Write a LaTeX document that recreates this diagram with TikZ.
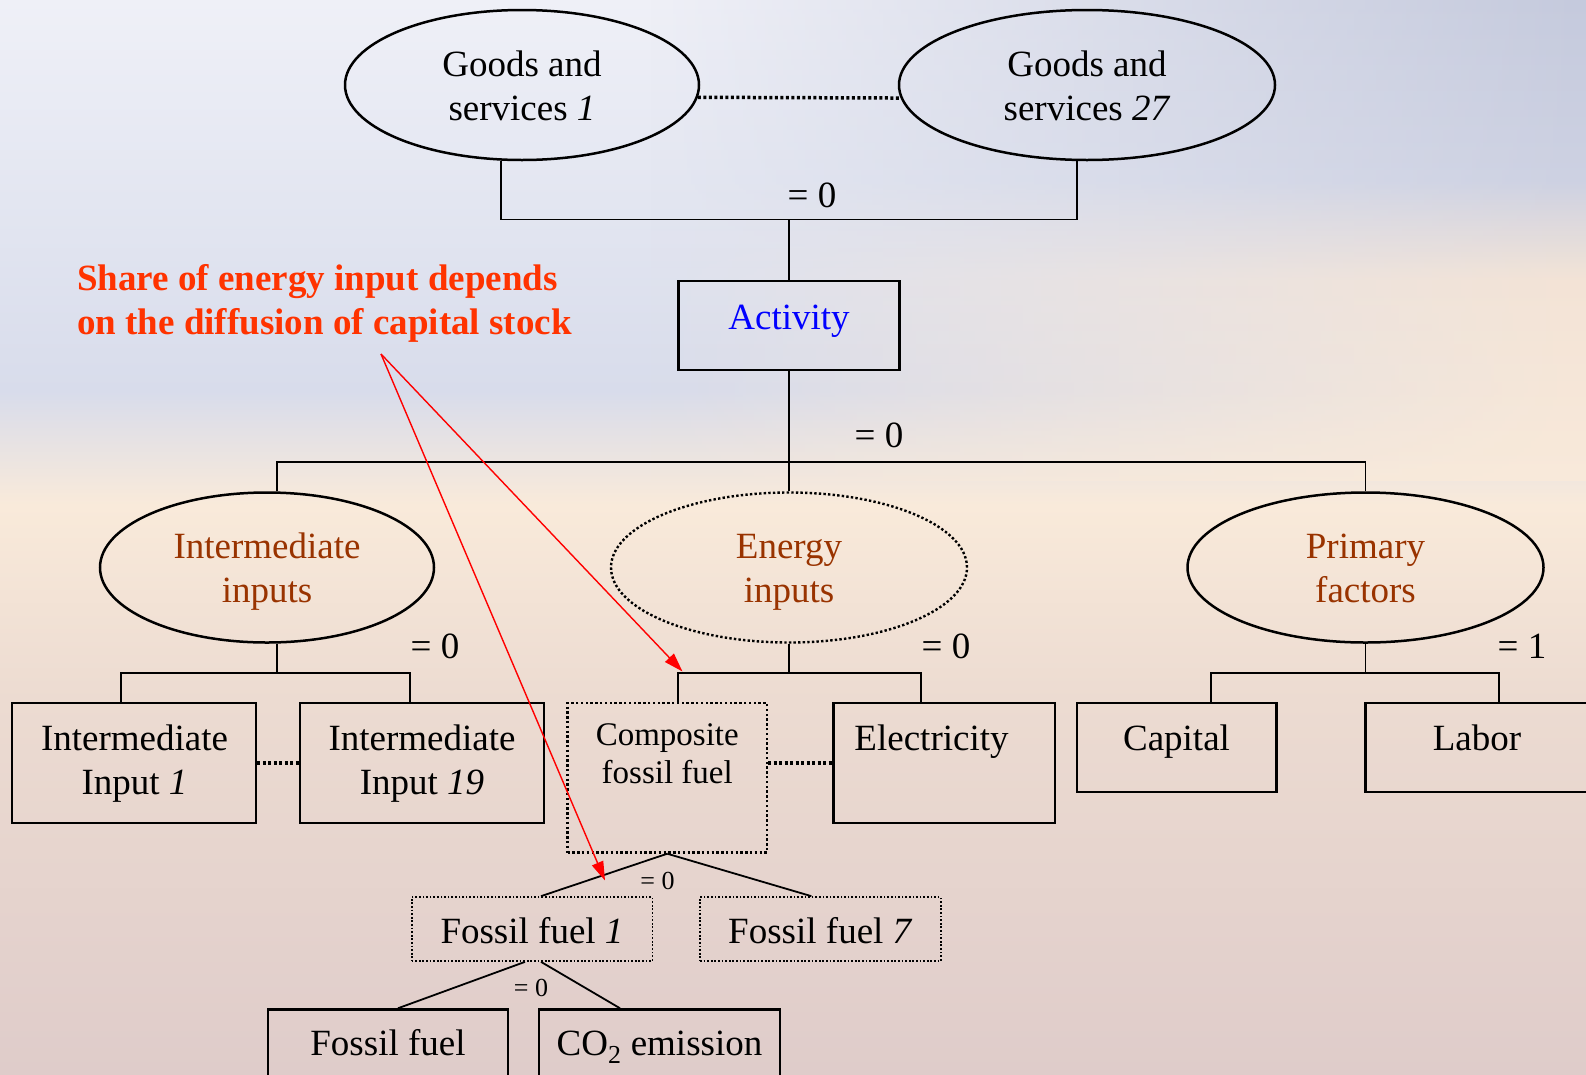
\documentclass[tikz,border=0pt]{standalone}
\usepackage{fontspec}
\setmainfont{Liberation Serif}
\usetikzlibrary{shapes.geometric,arrows.meta,fadings}
\definecolor{redtxt}{HTML}{FF3300}
\definecolor{browntxt}{HTML}{993300}
\definecolor{bgT}{HTML}{EFF0F7}
\definecolor{bgT2}{HTML}{E3E6F1}
\definecolor{bgU}{HTML}{D8DCEB}
\definecolor{bgM}{HTML}{F9EADA}
\definecolor{bgL}{HTML}{ECDBD1}
\definecolor{bgB}{HTML}{DFCCCA}
\definecolor{ovB1}{HTML}{C5CADD}
\definecolor{ovB2}{HTML}{CDD1E2}
\definecolor{ovP}{HTML}{F4E4D6}
\pgfdeclareverticalshading{bgshade}{100bp}{color(0bp)=(bgB); color(25bp)=(bgB); color(42.4bp)=(bgL); color(51.5bp)=(bgM); color(56.8bp)=(bgU); color(65.7bp)=(bgT2); color(75bp)=(bgT); color(100bp)=(bgT)}
\pgfdeclareverticalshading{ovshade}{100bp}{color(0bp)=(bgM); color(25bp)=(bgM); color(45.8bp)=(ovP); color(56.2bp)=(ovB2); color(75bp)=(ovB1); color(100bp)=(ovB1)}
\newcommand\mainf{\fontsize{37}{44.5}\selectfont}
\newcommand\smallf{\fontsize{33}{38}\selectfont}
\newcommand\tinyf{\fontsize{26}{30}\selectfont}
\newcommand\mlt[1]{\begin{tabular}[t]{@{}c@{}}#1\end{tabular}}
\begin{document}
\begin{tikzpicture}[x=1pt,y=-1pt,
  ell/.style={ellipse, draw, line width=2.5pt, inner sep=0pt, minimum height=150pt},
  dell/.style={ellipse, draw, line width=2.4pt, dash pattern=on 2.4pt off 2.2pt, inner sep=0pt, minimum height=150pt},
  box/.style={rectangle, draw, line width=2.5pt, inner sep=0pt},
  dbox/.style={rectangle, draw, line width=2.4pt, dash pattern=on 2.4pt off 2.4pt, inner sep=0pt},
  fbox/.style={rectangle, draw, line width=1.7pt, dash pattern=on 1.7pt off 1.9pt, inner sep=0pt},
  bus/.style={line width=1.8pt},
  dotlink/.style={line width=3.5pt, dash pattern=on 3pt off 2.5pt},
  txt/.style={anchor=base, inner sep=0pt, font=\mainf},
  redarr/.style={draw=red, line width=1.4pt, -{Triangle[length=19pt,width=12pt]}}
]
\useasboundingbox (0,0) rectangle (1586,1074);
\shade[shading=bgshade] (0,0) rectangle (1586,1074);
\shade[shading=ovshade, path fading=west] (650,0) rectangle (1586,480);

% top ellipses
\node[ell, minimum width=354pt] (g1) at (522,85) {};
\node[ell, minimum width=376pt] (g2) at (1087,85) {};
\node[txt] (g1t) at (522,76) {\mlt{Goods and\\services \textit{1}}};
\node[txt] (g2t) at (1087,76) {\mlt{Goods and\\services \textit{27}}};
\draw[dotlink] (g1.-4.6) -- (g2.184.6);

% activity
\node[box, minimum width=221pt, minimum height=89pt] (act) at (789,325.5) {};
\node[txt, text=blue] (actt) at (789,329) {Activity};
\coordinate (tbus) at (789,219.5);
\draw[bus] ([xshift=-21pt]g1.south) |- (tbus) -| ([xshift=-10pt]g2.south);
\draw[bus] (tbus) -- (act.north);
\node[txt] (l1) at (812,207) {= 0};

% second level
\node[ell, minimum width=334pt] (ii) at (267,567.5) {};
\node[dell, minimum width=356pt] (en) at (789,567.5) {};
\node[ell, minimum width=356pt] (pf) at (1365.5,567.5) {};
\node[txt, text=browntxt] (iit) at (267,558) {\mlt{Intermediate\\inputs}};
\node[txt, text=browntxt] (ent) at (789,558) {\mlt{Energy\\inputs}};
\node[txt, text=browntxt] (pft) at (1365.5,558) {\mlt{Primary\\factors}};
\coordinate (mbus) at (789,462);
\draw[bus] (act.south) -- (mbus);
\draw[bus] ([xshift=10pt]ii.north) |- (mbus) -| (pf.north);
\draw[bus] (mbus) -- (en.north);
\node[txt] (l2) at (879,447.5) {= 0};

% intermediate branch
\node[box, minimum width=244pt, minimum height=120pt] (ii1) at (134,763) {};
\node[box, minimum width=244pt, minimum height=120pt] (ii19) at (422,763) {};
\node[txt] (ii1t) at (134.5,750) {\mlt{Intermediate\\Input \textit{1}}};
\node[txt] (ii19t) at (422,750) {\mlt{Intermediate\\Input \textit{19}}};
\coordinate (ib) at (277,672.6);
\draw[bus] ([xshift=10pt]ii.south) -- (ib);
\draw[bus] ([xshift=-13pt]ii1.north) |- (ib) -| ([xshift=-12pt]ii19.north);
\draw[dotlink] (ii1.east) -- (ii19.west);
\node[txt] (l3) at (435,658) {= 0};

% energy branch
\node[dbox, minimum width=199.5pt, minimum height=149.5pt] (comp) at (667.25,777.75) {};
\node[txt, font=\smallf] (compt) at (667.25,745) {\begin{tabular}[t]{@{}c@{}}Composite\\fossil fuel\end{tabular}};
\node[box, minimum width=221.5pt, minimum height=120pt] (elec) at (944.25,763) {};
\node[txt] (elect) at (931.5,750) {Electricity};
\coordinate (eb) at (789,672.6);
\draw[bus] (en.south) -- (eb);
\draw[bus] ([xshift=11pt]comp.north) |- (eb) -| ([xshift=-23pt]elec.north);
\draw[dotlink] (comp.east |- elec.west) -- (elec.west);
\node[txt] (l4) at (946,658) {= 0};

% primary branch
\node[box, minimum width=199.5pt, minimum height=89pt] (cap) at (1176.75,747.5) {};
\node[box, minimum width=244.5pt, minimum height=89pt] (lab) at (1487.75,747.5) {};
\node[txt] (capt) at (1176.5,750) {Capital};
\node[txt] (labt) at (1477,750) {Labor};
\coordinate (pb) at (1365.5,672.6);
\draw[bus] (pf.south) -- (pb);
\draw[bus] ([xshift=34pt]cap.north) |- (pb) -| ([xshift=11pt]lab.north);
\node[txt] (l5) at (1522,658) {= 1};

% fossil fuels
\node[fbox, minimum width=240.7pt, minimum height=64pt] (ff1) at (532,929) {};
\node[fbox, minimum width=240.7pt, minimum height=64pt] (ff7) at (820.35,929) {};
\node[txt] (ff1t) at (532,943) {Fossil fuel \textit{1}};
\node[txt] (ff7t) at (820.35,943) {Fossil fuel \textit{7}};
\draw[bus] (comp.south) -- ([xshift=9pt]ff1.north);
\draw[bus] (comp.south) -- ([xshift=-9pt]ff7.north);
\node[txt, font=\tinyf] (l6) at (657.5,889) {= 0};

% bottom
\node[box, minimum width=240pt, minimum height=71pt] (ffb) at (388,1045) {};
\node[box, minimum width=241pt, minimum height=71pt] (co2) at (659.5,1045) {};
\node[txt] (ffbt) at (388,1055) {Fossil fuel};
\node[txt] (co2t) at (659.5,1055) {CO\textsubscript{2} emission};
\draw[bus] ([xshift=-7pt]ff1.south) -- ([xshift=10pt]ffb.north);
\draw[bus] ([xshift=9pt]ff1.south) -- ([xshift=-39.5pt]co2.north);
\node[txt, font=\tinyf] (l7) at (531,996) {= 0};

% red note
\node[anchor=base west, inner sep=0pt, font=\mainf\bfseries, text=redtxt] (note) at (77,290)
  {\begin{tabular}[t]{@{}l@{}}Share of energy input depends\\on the diffusion of capital stock\end{tabular}};
\coordinate (rsrc) at (381,354);
\coordinate (tip1) at (682.5,671.5);
\coordinate (tip2) at (605,880.5);
\draw[redarr] (rsrc) -- (tip1);
\draw[redarr] (rsrc) -- (tip2);
\end{tikzpicture}
\end{document}
